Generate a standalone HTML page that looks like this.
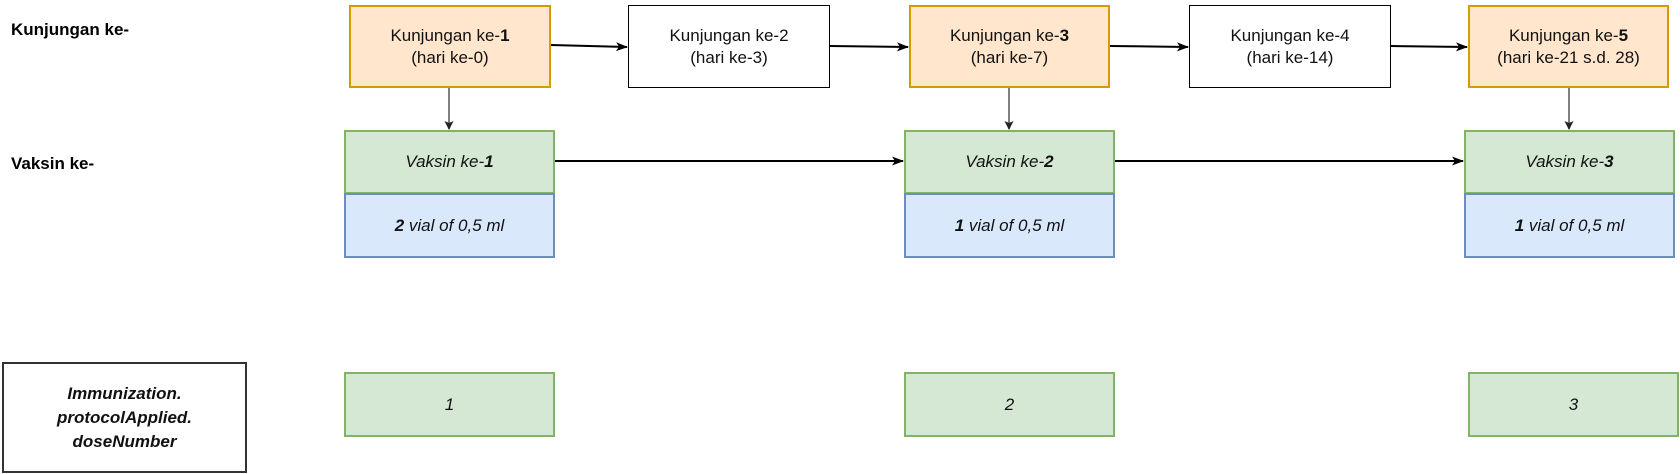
<!DOCTYPE html>
<html><head><meta charset="utf-8"><style>
body{margin:0;width:1680px;height:474px;background:#fff;position:relative;font-family:"Liberation Sans",Arial,sans-serif;overflow:hidden}
.b{position:absolute;box-sizing:border-box;display:flex;align-items:center;justify-content:center;text-align:center;font-size:17px;line-height:22px;color:#111}
.b>span{display:block}
.o{background:#ffe6cc;border:2px solid #d79b00}
.w{background:#fff;border:1.5px solid #000}
.g{background:#d5e8d4;border:2px solid #82b366;font-style:italic}
.bl{background:#dae8fc;border:2px solid #6c8ebf;font-style:italic}
.lab{position:absolute;font-weight:bold;font-size:17px}
svg{position:absolute;left:0;top:0}
</style></head><body>
<div class="lab" style="left:11px;top:20px">Kunjungan ke-</div>
<div class="lab" style="left:11px;top:154px">Vaksin ke-</div>

<div class="b o" style="left:349px;top:5px;width:202px;height:83px"><span>Kunjungan ke-<b>1</b><br>(hari ke-0)</span></div>
<div class="b w" style="left:628px;top:5px;width:202px;height:83px"><span>Kunjungan ke-2<br>(hari ke-3)</span></div>
<div class="b o" style="left:909px;top:5px;width:201px;height:83px"><span>Kunjungan ke-<b>3</b><br>(hari ke-7)</span></div>
<div class="b w" style="left:1189px;top:5px;width:202px;height:83px"><span>Kunjungan ke-4<br>(hari ke-14)</span></div>
<div class="b o" style="left:1468px;top:5px;width:201px;height:83px"><span>Kunjungan ke-<b>5</b><br>(hari ke-21 s.d. 28)</span></div>

<div class="b g" style="left:344px;top:130px;width:211px;height:64px"><span>Vaksin ke-<b>1</b></span></div>
<div class="b bl" style="left:344px;top:193px;width:211px;height:65px"><span><b>2</b> vial of 0,5 ml</span></div>
<div class="b g" style="left:904px;top:130px;width:211px;height:64px"><span>Vaksin ke-<b>2</b></span></div>
<div class="b bl" style="left:904px;top:193px;width:211px;height:65px"><span><b>1</b> vial of 0,5 ml</span></div>
<div class="b g" style="left:1464px;top:130px;width:211px;height:64px"><span>Vaksin ke-<b>3</b></span></div>
<div class="b bl" style="left:1464px;top:193px;width:211px;height:65px"><span><b>1</b> vial of 0,5 ml</span></div>

<div class="b w" style="left:2px;top:362px;width:245px;height:111px;border:2px solid #333;font-weight:bold;font-style:italic;line-height:24px"><span>Immunization.<br>protocolApplied.<br>doseNumber</span></div>
<div class="b g" style="left:344px;top:372px;width:211px;height:65px"><span>1</span></div>
<div class="b g" style="left:904px;top:372px;width:211px;height:65px"><span>2</span></div>
<div class="b g" style="left:1468px;top:372px;width:211px;height:65px"><span>3</span></div>

<svg width="1680" height="474">
<defs>
<marker id="a" markerWidth="12" markerHeight="12" refX="11" refY="6" orient="auto" markerUnits="userSpaceOnUse"><path d="M0,1.5 L12,6 L0,10.5 L3,6 Z" fill="#000"/></marker>
<marker id="s" markerWidth="9" markerHeight="9" refX="8" refY="4.5" orient="auto" markerUnits="userSpaceOnUse"><path d="M0,0 L9,4.5 L0,9 L2,4.5 Z" fill="#222"/></marker>
</defs>
<g stroke="#000" stroke-width="2" fill="none">
<path d="M551,45 L627,47" marker-end="url(#a)"/>
<path d="M830,46 L908,47" marker-end="url(#a)"/>
<path d="M1110,46 L1188,47" marker-end="url(#a)"/>
<path d="M1391,46 L1467,47" marker-end="url(#a)"/>
<path d="M555,161 L903,161" marker-end="url(#a)"/>
<path d="M1115,161 L1463,161" marker-end="url(#a)"/>
</g>
<g stroke="#555" stroke-width="1.5">
<path d="M449,88 L449,129" marker-end="url(#s)"/>
<path d="M1009,88 L1009,129" marker-end="url(#s)"/>
<path d="M1569,88 L1569,129" marker-end="url(#s)"/>
</g>
</svg>
</body></html>
